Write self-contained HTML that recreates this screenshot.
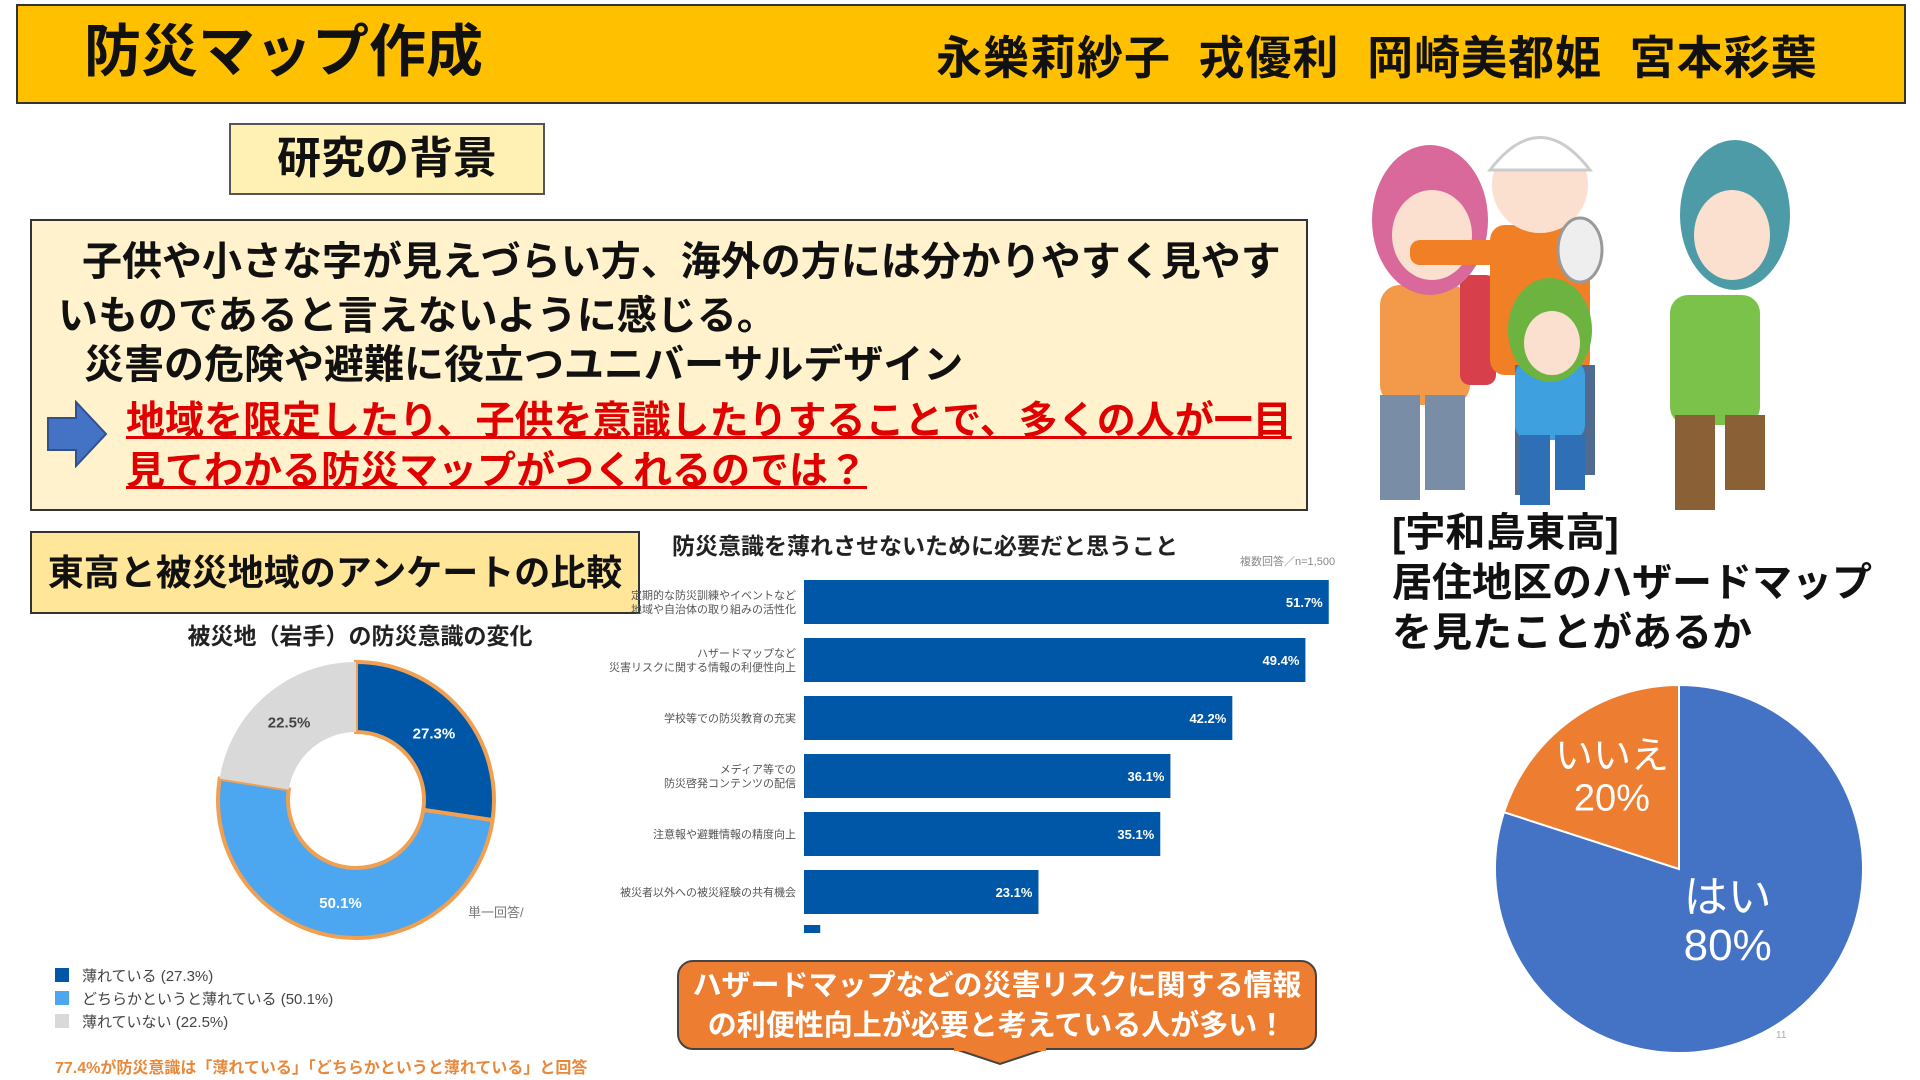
<!DOCTYPE html>
<html lang="ja"><head><meta charset="utf-8">
<style>
html,body{margin:0;padding:0;width:1920px;height:1080px;overflow:hidden;background:#fff;}
body{position:relative;font-family:"Liberation Sans","Noto Sans CJK JP",sans-serif;}
.abs{position:absolute;white-space:nowrap;}
.b{font-weight:bold;}
</style></head>
<body>
<div class="abs" style="left:16px;top:4px;width:1886px;height:96px;background:#FFC000;border:2px solid #333;"></div>
<div class="abs b" style="left:84px;top:12px;font-size:57px;line-height:80px;color:#111;">防災マップ作成</div>
<div class="abs b" style="left:936px;top:20px;font-size:46px;line-height:76px;letter-spacing:1px;color:#111;">永樂莉紗子&nbsp;&nbsp;戎優利&nbsp;&nbsp;岡崎美都姫&nbsp;&nbsp;宮本彩葉</div>

<div class="abs b" style="left:229px;top:123px;width:312px;height:68px;background:#FFF0B3;border:2px solid #555;font-size:44px;line-height:68px;text-align:center;color:#111;">研究の背景</div>

<div class="abs" style="left:30px;top:219px;width:1274px;height:288px;background:#FFF2CC;border:2px solid #333;"></div>
<div class="abs b" style="left:82px;top:236px;font-size:40px;line-height:52px;color:#111;">子供や小さな字が見えづらい方、海外の方には分かりやすく見やす</div>
<div class="abs b" style="left:58px;top:290px;font-size:40px;line-height:52px;color:#111;">いものであると言えないように感じる。</div>
<div class="abs b" style="left:84px;top:339px;font-size:40px;line-height:52px;color:#111;">災害の危険や避難に役立つユニバーサルデザイン</div>
<svg class="abs" style="left:46px;top:400px;" width="62" height="68"><polygon points="2,18 30,18 30,2 60,34 30,66 30,50 2,50" fill="#4472C4" stroke="#2F528F" stroke-width="2"/></svg>
<div class="abs b" style="left:126px;top:396px;font-size:39px;line-height:52px;color:#E00000;text-decoration:underline;">地域を限定したり、子供を意識したりすることで、多くの人が一目</div>
<div class="abs b" style="left:126px;top:446px;font-size:39px;line-height:52px;color:#E00000;text-decoration:underline;">見てわかる防災マップがつくれるのでは？</div>

<svg class="abs" style="left:1320px;top:125px;" width="540" height="390">
 <rect x="60" y="160" width="90" height="120" rx="20" fill="#F39A4A"/>
 <rect x="140" y="150" width="36" height="110" rx="10" fill="#D7404A"/>
 <rect x="60" y="270" width="40" height="105" fill="#7A8DA6"/><rect x="105" y="270" width="40" height="95" fill="#7A8DA6"/>
 <ellipse cx="110" cy="95" rx="58" ry="75" fill="#D9699A"/>
 <ellipse cx="112" cy="110" rx="40" ry="45" fill="#FBE0CF"/>
 <rect x="170" y="100" width="100" height="150" rx="15" fill="#F07F26"/>
 <rect x="90" y="115" width="90" height="25" rx="10" fill="#F07F26"/>
 <rect x="195" y="240" width="35" height="130" fill="#4F6B8F"/><rect x="240" y="240" width="35" height="110" fill="#4F6B8F"/>
 <ellipse cx="220" cy="60" rx="48" ry="48" fill="#FBE0CF"/>
 <path d="M170,45 Q220,-20 270,45 Z" fill="#fff" stroke="#ccc" stroke-width="3"/>
 <ellipse cx="260" cy="125" rx="22" ry="32" fill="#eee" stroke="#999" stroke-width="3"/>
 <rect x="350" y="170" width="90" height="130" rx="18" fill="#7BC24A"/>
 <rect x="355" y="290" width="40" height="95" fill="#8A6136"/><rect x="405" y="290" width="40" height="75" fill="#8A6136"/>
 <ellipse cx="415" cy="90" rx="55" ry="75" fill="#4E9BA8"/>
 <ellipse cx="412" cy="110" rx="38" ry="45" fill="#FBE0CF"/>
 <rect x="195" y="235" width="70" height="80" rx="15" fill="#3EA0DE"/>
 <rect x="200" y="310" width="30" height="70" fill="#2E6FB5"/><rect x="235" y="310" width="30" height="55" fill="#2E6FB5"/>
 <ellipse cx="230" cy="205" rx="42" ry="52" fill="#6DB33F"/>
 <ellipse cx="232" cy="218" rx="28" ry="32" fill="#FBE0CF"/>
</svg>

<div class="abs b" style="left:30px;top:531px;width:606px;height:79px;background:#FFE699;border:2px solid #333;font-size:36px;line-height:79px;text-align:center;color:#111;">東高と被災地域のアンケートの比較</div>
<div class="abs b" style="left:170px;top:620px;width:380px;text-align:center;font-size:23px;line-height:32px;color:#222;">被災地（岩手）の防災意識の変化</div>
<div class="abs b" style="left:672px;top:530px;font-size:23px;line-height:32px;color:#222;">防災意識を薄れさせないために必要だと思うこと</div>
<div class="abs" style="left:1240px;top:553px;font-size:11px;color:#888;">複数回答／n=1,500</div>
<div class="abs" style="left:468px;top:902px;font-size:13px;color:#777;">単一回答/</div>

<div class="abs b" style="left:677px;top:960px;width:640px;height:90px;background:#ED7D31;border:2px solid #444;border-radius:16px;color:#fff;font-size:29px;line-height:40px;text-align:center;padding-top:4px;box-sizing:border-box;">ハザードマップなどの災害リスクに関する情報<br>の利便性向上が必要と考えている人が多い！</div>
<svg class="abs" style="left:950px;top:1048px;" width="100" height="22"><polygon points="2,0 98,0 50,16" fill="#ED7D31" stroke="#444" stroke-width="2"/><rect x="4" y="0" width="92" height="3" fill="#ED7D31"/></svg>

<div class="abs b" style="left:55px;top:1058px;font-size:16px;line-height:22px;color:#E8883A;">77.4%が防災意識は「薄れている」「どちらかというと薄れている」と回答</div>

<div class="abs b" style="left:1392px;top:508px;font-size:40px;line-height:50px;color:#111;">[宇和島東高]<br>居住地区のハザードマップ<br>を見たことがあるか</div>
<div class="abs" style="left:1776px;top:1030px;font-size:10px;color:#aaa;">11</div>

<svg id="charts" class="abs" style="left:0;top:0;" width="1920" height="1080"></svg>

<script>
// Donut chart data
const donutLabels = ["薄れている", "どちらかというと薄れている", "薄れていない"];
const donutValues = [27.3, 50.1, 22.5];
// Bar chart data
const barCategories = [
 ["定期的な防災訓練やイベントなど","地域や自治体の取り組みの活性化"],
 ["ハザードマップなど","災害リスクに関する情報の利便性向上"],
 ["学校等での防災教育の充実"],
 ["メディア等での","防災啓発コンテンツの配信"],
 ["注意報や避難情報の精度向上"],
 ["被災者以外への被災経験の共有機会"],
 [""]
];
const barValues = [51.7, 49.4, 42.2, 36.1, 35.1, 23.1, 1.6];
const barValueLabels = ["51.7","49.4","42.2","36.1","35.1","23.1",""];
// Pie chart data
const pieLabels = ["はい", "いいえ"];
const pieValues = [80, 20];

const NS = "http://www.w3.org/2000/svg";
const svg = document.getElementById("charts");
function mk(tag, attrs, parent){
  const e = document.createElementNS(NS, tag);
  for (const k in attrs) e.setAttribute(k, attrs[k]);
  (parent||svg).appendChild(e);
  return e;
}
function pol(cx, cy, r, a){ const t=(a-90)*Math.PI/180; return [cx+r*Math.cos(t), cy+r*Math.sin(t)]; }

// ---- Donut ----
const dCx=356, dCy=800, dR=138, dr=68;
const donutColors=["#0057A8","#4DA6F0","#D9D9D9"];
const dTotal=donutValues.reduce((a,b)=>a+b,0);
let acc=0;
donutValues.forEach((v,i)=>{
  const a0=acc/dTotal*360, a1=(acc+v)/dTotal*360; acc+=v;
  const large=(a1-a0)>180?1:0;
  const p0=pol(dCx,dCy,dR,a0), p1=pol(dCx,dCy,dR,a1), q1=pol(dCx,dCy,dr,a1), q0=pol(dCx,dCy,dr,a0);
  const d=`M${p0[0]},${p0[1]} A${dR},${dR} 0 ${large} 1 ${p1[0]},${p1[1]} L${q1[0]},${q1[1]} A${dr},${dr} 0 ${large} 0 ${q0[0]},${q0[1]} Z`;
  const seg=mk("path",{d:d,fill:donutColors[i],stroke:i<2?"#F0A050":"none","stroke-width":4});
  
  
  const m=pol(dCx,dCy,(dR+dr)/2,(a0+a1)/2);
  const t=mk("text",{x:m[0],y:m[1]+6,"text-anchor":"middle","font-size":15,"font-weight":"bold",fill:i<2?"#fff":"#444"});
  t.textContent=v.toFixed(1)+"%";
  
  
});
donutLabels.forEach((l,i)=>{
  const y=968+i*23;
  const r=mk("rect",{x:55,y:y,width:14,height:14,fill:donutColors[i]});
  
  
  const t=mk("text",{x:82,y:y+13,"font-size":15,fill:"#444"});
  t.textContent=l+" ("+donutValues[i].toFixed(1)+"%)";
  
  
});

// ---- Bar chart ----
const bX0=804, bPxPer=10.15, bTop=580, bStep=58, bH=44;
function bx(v){ return bX0+v*bPxPer; }
barValues.forEach((v,i)=>{
  const last = i===barValues.length-1;
  const y = last ? 925 : bTop+i*bStep;
  const h = last ? 8 : bH;
  const r=mk("rect",{x:bX0,y:y,width:bx(v)-bX0,height:h,fill:"#0057A8"});
  
  
  if(barValueLabels[i]){
    const t=mk("text",{x:bx(v)-6,y:y+h/2+5,"text-anchor":"end","font-size":13,"font-weight":"bold",fill:"#fff"});
    t.textContent=barValueLabels[i]+"%";
    
    
  }
  const lines=barCategories[i];
  lines.forEach((ln,j)=>{
    if(!ln) return;
    const t=mk("text",{x:796,y:y+h/2+4+(j-(lines.length-1)/2)*14,"text-anchor":"end","font-size":11,fill:"#555"});
    t.textContent=ln;
    
    
  });
});

// ---- Pie ----
const pCx=1679, pCy=869, pR=184;
const pieColors=["#4472C4","#ED7D31"];
const pTotal=pieValues.reduce((a,b)=>a+b,0);
let pacc=0;
pieValues.forEach((v,i)=>{
  const a0=pacc/pTotal*360, a1=(pacc+v)/pTotal*360; pacc+=v;
  const large=(a1-a0)>180?1:0;
  const p0=pol(pCx,pCy,pR,a0), p1=pol(pCx,pCy,pR,a1);
  const s=mk("path",{d:`M${pCx},${pCy} L${p0[0]},${p0[1]} A${pR},${pR} 0 ${large} 1 ${p1[0]},${p1[1]} Z`,fill:pieColors[i],stroke:"#fff","stroke-width":2});
  
  
  const rr = i===0 ? 0.45*pR : 0.62*pR;
  const m=pol(pCx,pCy,rr,(a0+a1)/2);
  const fs = i===0 ? 44 : 38;
  const dy = i===0 ? -24 : -8;
  const t1=mk("text",{x:m[0],y:m[1]+dy,"text-anchor":"middle","font-size":fs,fill:"#fff"});
  t1.textContent=pieLabels[i];
  
  
  const t2=mk("text",{x:m[0],y:m[1]+dy+fs+4,"text-anchor":"middle","font-size":fs,fill:"#fff"});
  t2.textContent=v+"%";
  
  
});
</script>
</body></html>
